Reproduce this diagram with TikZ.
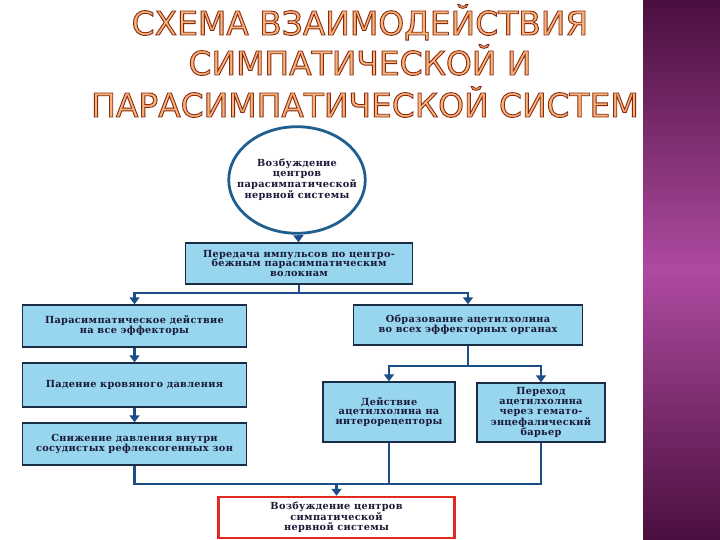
\documentclass[tikz,border=0pt]{standalone}
\usepackage{fontspec}
\usetikzlibrary{arrows.meta,shapes.geometric}
\setmainfont{DejaVu Serif}
\newfontfamily\boxfont[LetterSpace=3,BoldFont={DejaVu Serif Bold}]{DejaVu Serif}
\newfontfamily\titlefont{DejaVu Sans}
\newcommand{\outlinetext}[1]{\special{pdf:code q 2 Tr 0.9 w 0.54 0.16 0.06 RG}#1\special{pdf:code 0 Tr Q}}
\definecolor{boxfill}{HTML}{98D6F0}
\definecolor{boxline}{HTML}{1B2D45}
\definecolor{linecol}{HTML}{1C4F8A}
\definecolor{ellcol}{HTML}{1F5F8F}
\definecolor{redcol}{HTML}{E02A1E}
\definecolor{txtcol}{HTML}{1A1A38}
\definecolor{tfill}{HTML}{F6B57A}
\definecolor{purpdark}{HTML}{4A0F3E}
\definecolor{purpmid}{HTML}{AE4AA0}
\tikzset{
  bx/.style={draw=boxline, line width=1.6bp, fill=boxfill, align=center, inner sep=2bp,
    font=\boxfont\bfseries\fontsize{9.8}{10}\selectfont, text=txtcol},
  redbx/.style={bx, draw=redcol, line width=2.6bp, fill=white},
  ellbx/.style={ellipse, draw=ellcol, line width=2.8bp, fill=white, align=center,
    inner xsep=-14bp, inner ysep=0bp,
    font=\boxfont\bfseries\fontsize{9.8}{10}\selectfont, text=txtcol},
  conn/.style={draw=linecol, line width=2.2bp},
  arr/.style={conn, -{Triangle[width=10bp,length=7bp]}},
  ttl/.style={anchor=base, inner sep=0pt, font=\titlefont\fontsize{33}{33}\selectfont, text=tfill}
}
\begin{document}
\begin{tikzpicture}[x=1bp,y=-1bp]
\useasboundingbox (0,0) rectangle (720,540);
\fill[white] (0,0) rectangle (720,540);
\shade[top color=purpdark, bottom color=purpdark, middle color=purpmid] (643,0) rectangle (720,540);

% title
\node[ttl] (t1) at (360,35) {\outlinetext{СХЕМА ВЗАИМОДЕЙСТВИЯ}};
\node[ttl] (t2) at (360,75) {\outlinetext{СИМПАТИЧЕСКОЙ И}};
\node[ttl] (t3) at (365,117) {\outlinetext{ПАРАСИМПАТИЧЕСКОЙ СИСТЕМ}};

% nodes
\node[ellbx, minimum width=137, minimum height=107] (circ) at (297,180)
  {Возбуждение\\центров\\парасимпатической\\нервной системы};
\node[bx, minimum width=228, minimum height=41] (top) at (299,263.5)
  {Передача импульсов по центро-\\бежным парасимпатическим\\волокнам};
\node[bx, minimum width=225, minimum height=42] (L1) at (134.5,326)
  {Парасимпатическое действие\\на все эффекторы};
\node[bx, minimum width=225, minimum height=44] (L2) at (134.5,385)
  {Падение кровяного давления};
\node[bx, minimum width=225, minimum height=42] (L3) at (134.5,444)
  {Снижение давления внутри\\сосудистых рефлексогенных зон};
\node[bx, minimum width=230, minimum height=40] (R1) at (468,325)
  {Образование ацетилхолина\\во всех эффекторных органах};
\node[bx, minimum width=132, minimum height=60] (RC1) at (389,412)
  {Действие\\ацетилхолина на\\интерорецепторы};
\node[bx, minimum width=128, minimum height=59, inner sep=1bp] (RC2) at (541,412.5)
  {Переход\\ацетилхолина\\через гемато-\\энцефалический\\барьер};
\node[redbx, minimum width=237, minimum height=41] (red) at (336.5,517.5)
  {Возбуждение центров\\симпатической\\нервной системы};
\coordinate (bot) at (336.5,484);

% connectors
\draw[arr] (circ) -- (top);
\draw[arr] (top.south) -- ++(0,8.5) -| (L1.north);
\draw[arr] (top.south) -- ++(0,8.5) -| (R1.north);
\draw[arr] (L1) -- (L2);
\draw[arr] (L2) -- (L3);
\draw[arr] (R1.south) -- ++(0,20) -| (RC1.north);
\draw[arr] (R1.south) -- ++(0,20) -| (RC2.north);
\draw[conn] (L3.south) |- (bot);
\draw[conn] (RC1.south) |- (bot);
\draw[conn] (RC2.south) |- (bot);
\draw[arr] (bot) -- (red.north);
\end{tikzpicture}
\end{document}
